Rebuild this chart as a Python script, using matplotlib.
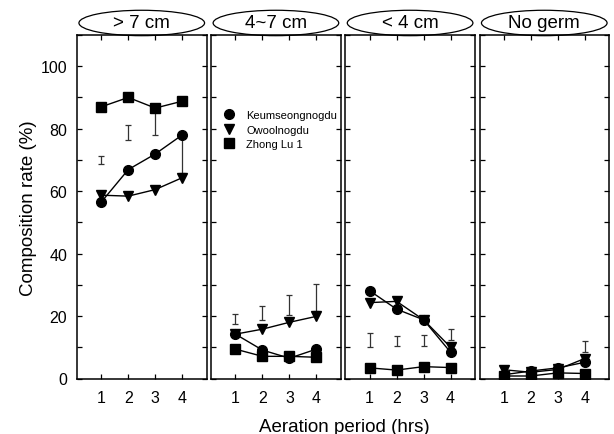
import matplotlib.pyplot as plt
from matplotlib.patches import Ellipse
from matplotlib.lines import Line2D
from matplotlib.ticker import MultipleLocator

plt.rcParams['font.family'] = ['Liberation Sans', 'DejaVu Sans']

hours = [1, 2, 3, 4]
panel_titles = ["> 7 cm", "4~7 cm", "< 4 cm", "No germ"]
series_names = ["Keumseongnogdu", "Owoolnogdu", "Zhong Lu 1"]

# composition rate (%) per panel: [>7, 4~7, <4, no germ]
keumseong = [
    [56.5, 66.9, 71.9, 78.0],
    [14.2, 9.1, 6.5, 9.4],
    [28.1, 22.2, 18.8, 8.4],
    [1.2, 2.4, 3.4, 5.2],
]
owool = [
    [58.7, 58.4, 60.5, 64.3],
    [14.2, 15.8, 18.0, 19.9],
    [24.3, 24.7, 18.8, 10.0],
    [2.8, 2.0, 2.9, 6.4],
]
zhonglu = [
    [87.0, 90.0, 86.6, 88.8],
    [9.4, 7.1, 7.1, 6.8],
    [3.4, 2.7, 3.8, 3.5],
    [0.8, 0.8, 1.8, 1.6],
]

# LSD bars (low, high) per panel, None = no bar
lsd_low = [
    [68.8, 76.5, 78.1, 65.9],
    [17.6, 18.8, 20.4, 21.7],
    [10.0, 10.5, 10.3, 12.3],
    [None, None, None, 8.6],
]
lsd_high = [
    [71.2, 81.1, 86.1, 78.7],
    [20.8, 23.3, 26.7, 30.2],
    [14.5, 13.7, 14.0, 16.0],
    [None, None, None, 12.0],
]

fig, axes = plt.subplots(1, 4, figsize=(6.14, 4.35), dpi=100, sharey=True)
fig.subplots_adjust(left=0.1254, right=0.9919, top=1 - 36 / 435, bottom=1 - 379.5 / 435, wspace=0.036)

all_series = [keumseong, owool, zhonglu]
markers = ['o', 'v', 's']
msizes = [7, 7, 6.5]

for i, ax in enumerate(axes):
    # lsd bars
    for j, x in enumerate(hours):
        lo = lsd_low[i][j]
        hi = lsd_high[i][j]
        if lo is None:
            continue
        ax.errorbar([x], [(lo + hi) / 2], yerr=[(hi - lo) / 2], fmt='none',
                    ecolor='0.2', elinewidth=0.9, capsize=2.5, capthick=0.9, zorder=2)
    for s, vals in enumerate(all_series):
        ax.plot(hours, vals[i], color='black', lw=1.0, marker=markers[s],
                markersize=msizes[s], markerfacecolor='black', markeredgecolor='black', zorder=3)

    ax.set_xlim(0.1, 4.9)
    ax.set_ylim(0, 110)
    ax.set_xticks(hours)
    ax.yaxis.set_major_locator(MultipleLocator(20))
    ax.yaxis.set_minor_locator(MultipleLocator(10))
    ax.tick_params(which='both', direction='in', top=True, right=True, length=3.8, width=0.9,
                   labelsize=11.5)
    ax.tick_params(axis='x', pad=8.5)
    ax.tick_params(axis='y', pad=7)
    for sp in ax.spines.values():
        sp.set_linewidth(1.1)
    if i > 0:
        ax.tick_params(labelleft=False)

    # titles in ellipses above panels
    ell = Ellipse((0.5, 1.035), 0.97, 0.074, transform=ax.transAxes, clip_on=False,
                  facecolor='white', edgecolor='black', lw=0.9)
    ax.add_patch(ell)
    ax.text(0.5, 1.035, panel_titles[i], transform=ax.transAxes, ha='center', va='center',
            fontsize=13.5)

handles = [Line2D([], [], color='black', marker=m, linestyle='none', markersize=ms)
           for m, ms in zip(markers, msizes)]
axes[1].legend(handles, series_names, loc='upper left', bbox_to_anchor=(0.04, 0.80),
               frameon=False, fontsize=8, handlelength=1.0, handletextpad=1.1,
               labelspacing=0.38, borderaxespad=0.2)

fig.text(0.047, (1 - 36 / 435 + 1 - 379.5 / 435) / 2, "Composition rate (%)", rotation=90,
         ha='center', va='center', fontsize=13.5)
fig.text(0.56, 0.017, "Aeration period (hrs)", ha='center', va='center', fontsize=13.5)

fig.savefig("out.png", dpi=100)
